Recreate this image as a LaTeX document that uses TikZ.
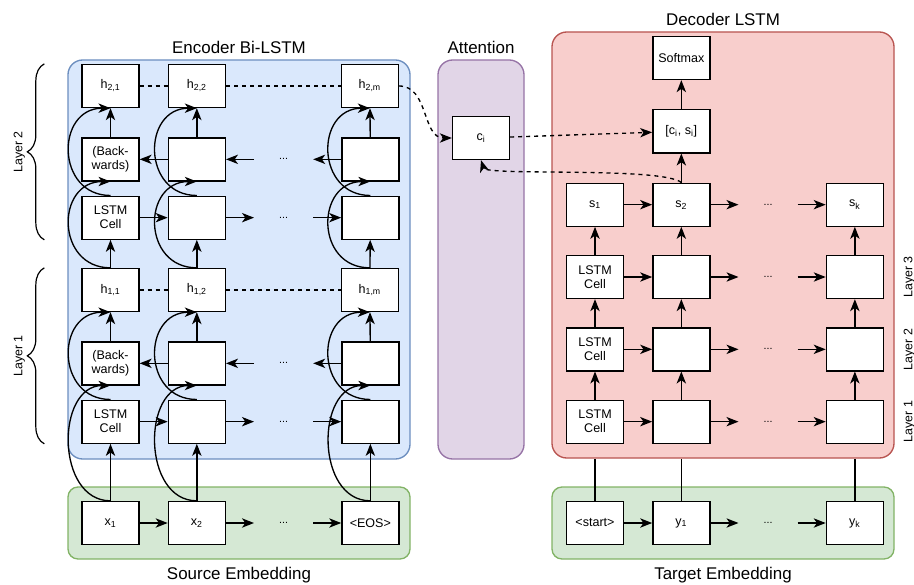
\documentclass[tikz,border=0pt]{standalone}
\usepackage{fontspec}
\setmainfont{Liberation Sans}
\usetikzlibrary{arrows.meta,positioning,decorations.pathreplacing}

\definecolor{encblue}{HTML}{DAE8FC}
\definecolor{encline}{HTML}{6C8EBF}
\definecolor{attpurple}{HTML}{E1D5E7}
\definecolor{attline}{HTML}{9673A6}
\definecolor{decred}{HTML}{F8CECC}
\definecolor{decline}{HTML}{B85450}
\definecolor{embgreen}{HTML}{D5E8D4}
\definecolor{embline}{HTML}{82B366}

\begin{document}
\begin{tikzpicture}[
    x=0.75pt, y=-0.75pt,
    node distance=21pt,
    cell/.style={draw, line width=1pt, fill=white, minimum width=42.75pt, minimum height=32.25pt, inner sep=0pt, align=center, font=\fontsize{9.4}{10.5}\selectfont},
    dots/.style={minimum width=44pt, inner sep=0pt, font=\fontsize{8}{9}\selectfont},
    group/.style={draw, line width=1pt, rounded corners=11pt},
    embed/.style={draw=embline, fill=embgreen, line width=1pt, rounded corners=7.5pt, minimum width=256.5pt, minimum height=54pt},
    title/.style={font=\fontsize{12.7}{14}\selectfont},
    layer/.style={rotate=90, inner sep=1pt, font=\fontsize{9.3}{11}\selectfont},
    arrow/.style={-{Stealth[length=9pt, width=7pt, inset=2.5pt]}, line width=1pt},
    link/.style={dash pattern=on 3pt off 3pt, line width=1pt},
    brace/.style={decorate, decoration={brace, amplitude=12.75pt}, line width=0.9pt}
  ]
    \useasboundingbox (0,0) rectangle (914,585);

    % groups
    \node[group, draw=encline, fill=encblue, minimum width=256.5pt, minimum height=299.25pt] (encbox) at (239,259.5) {};
    \node[group, draw=attline, fill=attpurple, minimum width=64.5pt, minimum height=299.25pt] (attbox) at (481,259.5) {};
    \node[group, draw=decline, fill=decred, minimum width=256.5pt, minimum height=319.5pt] (decbox) at (723,245) {};
    \node[embed] (srcbox) at (239,523) {};
    \node[embed] (tgtbox) at (723,523) {};
    \node[title, above=1pt of encbox] (enctitle) {Encoder Bi-LSTM};
    \node[title, above=1pt of attbox] (atttitle) {Attention};
    \node[title, above=1pt of decbox] (dectitle) {Decoder LSTM};
    \node[title, below=2pt of srcbox] (srctitle) {Source Embedding};
    \node[title, below=2pt of tgtbox] (tgttitle) {Target Embedding};

    % encoder, first column
    \node[cell] (x1) at (110.5,523) {x\textsubscript{1}};
    \node[cell, above=42.75pt of x1] (fw11) {LSTM\\Cell};
    \node[cell, above=10.5pt of fw11] (bk11) {(Back-\\wards)};
    \node[cell, above=21.75pt of bk11] (h11) {h\textsubscript{1,1}};
    \node[cell, above=21pt of h11] (fw21) {LSTM\\Cell};
    \node[cell, above=10.5pt of fw21] (bk21) {(Back-\\wards)};
    \node[cell, above=21.75pt of bk21] (h21) {h\textsubscript{2,1}};
    % encoder, second column
    \node[cell, right=of x1] (x2) {x\textsubscript{2}};
    \node[cell, right=of fw11] (fw12) {};
    \node[cell, right=of bk11] (bk12) {};
    \node[cell, right=of h11] (h12) {h\textsubscript{1,2}};
    \node[cell, right=of fw21] (fw22) {};
    \node[cell, right=of bk21] (bk22) {};
    \node[cell, right=of h21] (h22) {h\textsubscript{2,2}};
    \node[dots, right=of x2] (dx) {...};
    \node[dots, right=of fw12] (dfw1) {...};
    \node[dots, right=of bk12] (dbk1) {...};
    \node[dots, right=of fw22] (dfw2) {...};
    \node[dots, right=of bk22] (dbk2) {...};
    % encoder, last column
    \node[cell, right=of dx] (xm) {<EOS>};
    \node[cell, right=of dfw1] (fw1m) {};
    \node[cell, right=of dbk1] (bk1m) {};
    \node[cell, right=86pt of h12] (h1m) {h\textsubscript{1,m}};
    \node[cell, right=of dfw2] (fw2m) {};
    \node[cell, right=of dbk2] (bk2m) {};
    \node[cell, right=86pt of h22] (h2m) {h\textsubscript{2,m}};

    % attention
    \node[cell] (ci) at (481,138) {c\textsubscript{i}};

    % decoder
    \node[cell] (ys) at (595,523) {<start>};
    \node[cell, above=42.75pt of ys] (d11) {LSTM\\Cell};
    \node[cell, above=21pt of d11] (d21) {LSTM\\Cell};
    \node[cell, above=21pt of d21] (d31) {LSTM\\Cell};
    \node[cell, above=21pt of d31] (s1) {s\textsubscript{1}};
    \node[cell, right=of ys] (y1) {y\textsubscript{1}};
    \node[cell, right=of d11] (d12) {};
    \node[cell, right=of d21] (d22) {};
    \node[cell, right=of d31] (d32) {};
    \node[cell, right=of s1] (s2) {s\textsubscript{2}};
    \node[dots, right=of y1] (dy) {...};
    \node[dots, right=of d12] (dd1) {...};
    \node[dots, right=of d22] (dd2) {...};
    \node[dots, right=of d32] (dd3) {...};
    \node[dots, right=of s2] (ds) {...};
    \node[cell, right=of dy] (yk) {y\textsubscript{k}};
    \node[cell, right=of dd1] (d1k) {};
    \node[cell, right=of dd2] (d2k) {};
    \node[cell, right=of dd3] (d3k) {};
    \node[cell, right=of ds] (sk) {s\textsubscript{k}};
    \node[cell, above=21.75pt of s2] (cs) {[c\textsubscript{i}, s\textsubscript{i}]};
    \node[cell, above=21.75pt of cs] (soft) {Softmax};
    \node[layer] (lay3) at ([xshift=19pt]d3k.east) {Layer 3};
    \node[layer] (lay2) at ([xshift=19pt]d2k.east) {Layer 2};
    \node[layer] (lay1) at ([xshift=19pt]d1k.east) {Layer 1};

    % encoder layers
    \draw[brace] ([xshift=-27.75pt]fw21.south west) -- ([xshift=-27.75pt]h21.north west)
      node[midway, xshift=-18.75pt, layer] (enclay2) {Layer 2};
    \draw[brace] ([xshift=-27.75pt]fw11.south west) -- ([xshift=-27.75pt]h11.north west)
      node[midway, xshift=-18.75pt, layer] (enclay1) {Layer 1};

    % encoder connectors
    \draw[arrow] (x1) -- (x2);
    \draw[arrow] (x2) -- (dx);
    \draw[arrow] (dx) -- (xm);
    \draw[arrow] (fw11) -- (fw12);
    \draw[arrow] (fw12) -- (dfw1);
    \draw[arrow] (dfw1) -- (fw1m);
    \draw[arrow] (bk12) -- (bk11);
    \draw[arrow] (dbk1) -- (bk12);
    \draw[arrow] (bk1m) -- (dbk1);
    \draw[arrow] (fw21) -- (fw22);
    \draw[arrow] (fw22) -- (dfw2);
    \draw[arrow] (dfw2) -- (fw2m);
    \draw[arrow] (bk22) -- (bk21);
    \draw[arrow] (dbk2) -- (bk22);
    \draw[arrow] (bk2m) -- (dbk2);
    \draw[link] (h11) -- (h12);
    \draw[link] (h12) -- (h1m);
    \draw[link] (h21) -- (h22);
    \draw[link] (h22) -- (h2m);

    \draw[arrow] (x1) -- (fw11);
    \draw[arrow] (bk11) -- (h11);
    \draw[arrow] (h11) -- (fw21);
    \draw[arrow] (bk21) -- (h21);
    \draw[arrow] (x1.north) .. controls +(-55,0) and +(-55,0) .. (bk11.south);
    \draw[arrow] (fw11.north) .. controls +(-55,0) and +(-55,0) .. (h11.south);
    \draw[arrow] (h11.north) .. controls +(-55,0) and +(-55,0) .. (bk21.south);
    \draw[arrow] (fw21.north) .. controls +(-55,0) and +(-55,0) .. (h21.south);

    \draw[arrow] (x2) -- (fw12);
    \draw[arrow] (bk12) -- (h12);
    \draw[arrow] (h12) -- (fw22);
    \draw[arrow] (bk22) -- (h22);
    \draw[arrow] (x2.north) .. controls +(-55,0) and +(-55,0) .. (bk12.south);
    \draw[arrow] (fw12.north) .. controls +(-55,0) and +(-55,0) .. (h12.south);
    \draw[arrow] (h12.north) .. controls +(-55,0) and +(-55,0) .. (bk22.south);
    \draw[arrow] (fw22.north) .. controls +(-55,0) and +(-55,0) .. (h22.south);

    \draw[arrow] (xm) -- (fw1m);
    \draw[arrow] (bk1m) -- (h1m);
    \draw[arrow] (h1m) -- (fw2m);
    \draw[arrow] (bk2m) -- (h2m);
    \draw[arrow] (xm.north) .. controls +(-55,0) and +(-55,0) .. (bk1m.south);
    \draw[arrow] (fw1m.north) .. controls +(-55,0) and +(-55,0) .. (h1m.south);
    \draw[arrow] (h1m.north) .. controls +(-55,0) and +(-55,0) .. (bk2m.south);
    \draw[arrow] (fw2m.north) .. controls +(-55,0) and +(-55,0) .. (h2m.south);

    % attention connectors
    \draw[arrow, link] (h2m.east) .. controls +(30,0) and +(-30,0) .. (ci.west);
    \draw[arrow, link] (ci) -- (cs);
    \draw[arrow, link] (s2.north) .. controls +(-20,-16) and +(5,16) .. (ci.south);

    % decoder connectors
    \draw[line width=1pt] (ys.north) -- (ys.north |- decbox.south);
    \draw[line width=1pt] (y1.north) -- (y1.north |- decbox.south);
    \draw[line width=1pt] (yk.north) -- (yk.north |- decbox.south);
    \draw[arrow] (ys) -- (y1);
    \draw[arrow] (y1) -- (dy);
    \draw[arrow] (dy) -- (yk);
    \draw[arrow] (d11) -- (d12);
    \draw[arrow] (d12) -- (dd1);
    \draw[arrow] (dd1) -- (d1k);
    \draw[arrow] (d21) -- (d22);
    \draw[arrow] (d22) -- (dd2);
    \draw[arrow] (dd2) -- (d2k);
    \draw[arrow] (d31) -- (d32);
    \draw[arrow] (d32) -- (dd3);
    \draw[arrow] (dd3) -- (d3k);
    \draw[arrow] (s1) -- (s2);
    \draw[arrow] (s2) -- (ds);
    \draw[arrow] (ds) -- (sk);
    \draw[arrow] (d11) -- (d21);
    \draw[arrow] (d21) -- (d31);
    \draw[arrow] (d31) -- (s1);
    \draw[arrow] (d12) -- (d22);
    \draw[arrow] (d22) -- (d32);
    \draw[arrow] (d32) -- (s2);
    \draw[arrow] (d1k) -- (d2k);
    \draw[arrow] (d2k) -- (d3k);
    \draw[arrow] (d3k) -- (sk);
    \draw[arrow] (s2) -- (cs);
    \draw[arrow] (cs) -- (soft);
  \end{tikzpicture}
\end{document}
